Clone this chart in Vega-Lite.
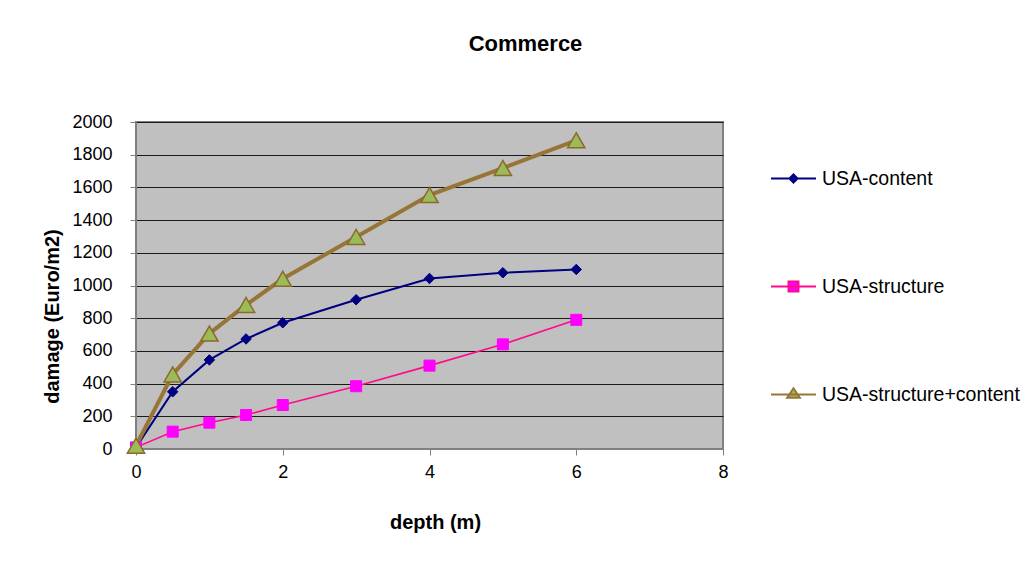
{
  "$schema": "https://vega.github.io/schema/vega-lite/v6.json",
  "autosize": "none",
  "width": 587,
  "height": 327,
  "padding": {"left": 136, "top": 122, "right": 306, "bottom": 118},
  "background": "white",
  "title": {
    "text": "Commerce",
    "font": "Liberation Sans",
    "fontSize": 22,
    "fontWeight": "bold",
    "color": "black",
    "anchor": "middle",
    "frame": "group",
    "dx": 96,
    "baseline": "middle",
    "offset": 47
  },
  "config": {
    "view": {"fill": "#C0C0C0", "stroke": "#808080", "strokeWidth": 2},
    "axis": {
      "labelFont": "Liberation Sans",
      "labelFontSize": 18,
      "labelColor": "black",
      "labelFlush": false,
      "titleFont": "Liberation Sans",
      "titleFontSize": 20,
      "titleFontWeight": "bold",
      "titleColor": "black",
      "domainColor": "#808080",
      "tickColor": "#808080",
      "tickSize": 6
    }
  },
  "data": {
    "values": [
      {"series": "USA-content", "depth": 0, "damage": 10},
      {"series": "USA-content", "depth": 0.5, "damage": 350},
      {"series": "USA-content", "depth": 1, "damage": 545},
      {"series": "USA-content", "depth": 1.5, "damage": 673},
      {"series": "USA-content", "depth": 2, "damage": 772},
      {"series": "USA-content", "depth": 3, "damage": 913},
      {"series": "USA-content", "depth": 4, "damage": 1043},
      {"series": "USA-content", "depth": 5, "damage": 1078},
      {"series": "USA-content", "depth": 6, "damage": 1098},
      {"series": "USA-structure", "depth": 0, "damage": 10},
      {"series": "USA-structure", "depth": 0.5, "damage": 106},
      {"series": "USA-structure", "depth": 1, "damage": 161},
      {"series": "USA-structure", "depth": 1.5, "damage": 208},
      {"series": "USA-structure", "depth": 2, "damage": 269},
      {"series": "USA-structure", "depth": 3, "damage": 384},
      {"series": "USA-structure", "depth": 4, "damage": 510},
      {"series": "USA-structure", "depth": 5, "damage": 640},
      {"series": "USA-structure", "depth": 6, "damage": 790},
      {"series": "USA-structure+content", "depth": 0, "damage": 20},
      {"series": "USA-structure+content", "depth": 0.5, "damage": 456},
      {"series": "USA-structure+content", "depth": 1, "damage": 706},
      {"series": "USA-structure+content", "depth": 1.5, "damage": 881},
      {"series": "USA-structure+content", "depth": 2, "damage": 1041},
      {"series": "USA-structure+content", "depth": 3, "damage": 1297},
      {"series": "USA-structure+content", "depth": 4, "damage": 1553},
      {"series": "USA-structure+content", "depth": 5, "damage": 1718},
      {"series": "USA-structure+content", "depth": 6, "damage": 1888}
    ]
  },
  "encoding": {
    "x": {
      "field": "depth",
      "type": "quantitative",
      "scale": {"domain": [0, 8], "nice": false},
      "axis": {
        "values": [0, 2, 4, 6, 8],
        "grid": false,
        "title": "depth (m)",
        "labelPadding": 8,
        "titleX": 299,
        "titleY": 73,
        "titleBaseline": "middle",
        "titleAlign": "center"
      }
    },
    "y": {
      "field": "damage",
      "type": "quantitative",
      "scale": {"domain": [0, 2000], "nice": false},
      "axis": {
        "values": [0, 200, 400, 600, 800, 1000, 1200, 1400, 1600, 1800, 2000],
        "format": "d",
        "grid": true,
        "gridColor": "#1a1a1a",
        "gridWidth": 1,
        "gridOpacity": 1,
        "title": "damage (Euro/m2)",
        "labelPadding": 18,
        "titleX": -84,
        "titleY": 194,
        "titleAngle": 270,
        "titleBaseline": "middle",
        "titleAlign": "center"
      }
    }
  },
  "layer": [
    {
      "transform": [{"filter": "datum.series === 'USA-content'"}],
      "mark": {"type": "line", "clip": false, "color": "#000080", "strokeWidth": 2}
    },
    {
      "transform": [{"filter": "datum.series === 'USA-structure'"}],
      "mark": {"type": "line", "clip": false, "color": "#FF0A8C", "strokeWidth": 1.6}
    },
    {
      "transform": [{"filter": "datum.series === 'USA-structure+content'"}],
      "mark": {"type": "line", "clip": false, "color": "#967536", "strokeWidth": 4}
    },
    {
      "transform": [{"filter": "datum.series === 'USA-content'"}],
      "mark": {"type": "point", "clip": false, "shape": "diamond", "filled": true, "opacity": 1, "fill": "#000080", "stroke": "#000080", "strokeWidth": 1, "size": 110}
    },
    {
      "transform": [{"filter": "datum.series === 'USA-structure'"}],
      "mark": {"type": "point", "clip": false, "shape": "square", "filled": true, "opacity": 1, "fill": "#FF00FF", "stroke": "#FF00FF", "strokeWidth": 1, "size": 121}
    },
    {
      "transform": [{"filter": "datum.series === 'USA-structure+content'"}],
      "mark": {"type": "point", "clip": false, "shape": "triangle-up", "filled": true, "opacity": 1, "fill": "#9BBB59", "stroke": "#8A6A2E", "strokeWidth": 1.5, "size": 300}
    },
    {
      "mark": {"type": "point", "filled": true, "size": 0, "clip": false},
      "encoding": {
        "shape": {
          "field": "series",
          "type": "nominal",
          "scale": {
            "domain": ["USA-content", "USA-structure", "USA-structure+content"],
            "range": [
              "M-1,0H1M0,-0.18L0.18,0L0,0.18L-0.18,0Z",
              "M-1,0H1M-0.22,-0.22H0.22V0.22H-0.22Z",
              "M-1,0H1M0,-0.28L0.28,0.14L-0.28,0.14Z"
            ]
          },
          "legend": {
            "title": null,
            "orient": "none",
            "legendX": 634,
            "legendY": 33,
            "symbolSize": 2025,
            "rowPadding": 75,
            "labelFont": "Liberation Sans",
            "labelFontSize": 19.5,
            "labelColor": "black",
            "labelOffset": 5,
            "labelLimit": 400,
            "symbolOpacity": 1
          }
        },
        "fill": {
          "field": "series",
          "type": "nominal",
          "scale": {
            "domain": ["USA-content", "USA-structure", "USA-structure+content"],
            "range": ["#000080", "#FF00FF", "#9BBB59"]
          }
        },
        "stroke": {
          "field": "series",
          "type": "nominal",
          "scale": {
            "domain": ["USA-content", "USA-structure", "USA-structure+content"],
            "range": ["#000080", "#FF0A8C", "#967536"]
          }
        },
        "strokeWidth": {
          "field": "series",
          "type": "ordinal",
          "scale": {
            "domain": ["USA-content", "USA-structure", "USA-structure+content"],
            "range": [2, 2, 4]
          }
        }
      }
    }
  ]
}
